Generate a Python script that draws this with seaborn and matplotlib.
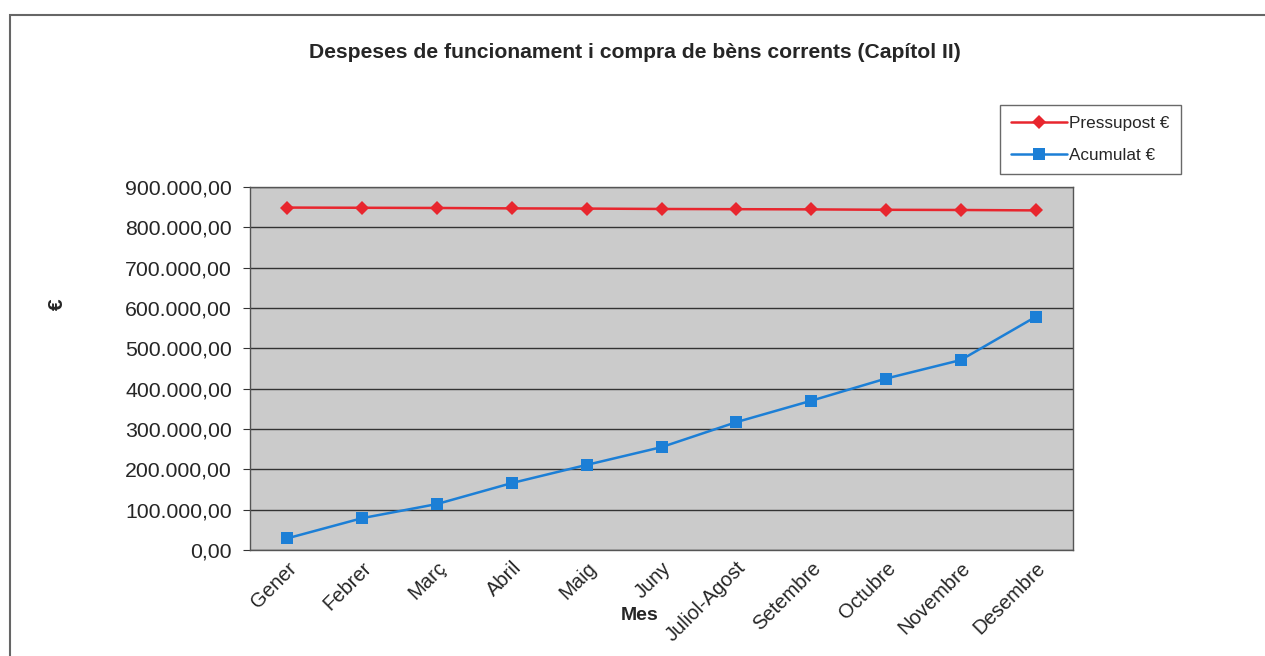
import matplotlib
matplotlib.use("Agg")
import matplotlib.pyplot as plt
import seaborn as sns
import pandas as pd
from matplotlib.ticker import FuncFormatter, FixedLocator
from matplotlib.patches import Rectangle

months = ["Gener", "Febrer", "Març", "Abril", "Maig", "Juny", "Juliol-Agost",
          "Setembre", "Octubre", "Novembre", "Desembre"]
pressupost = [849000, 848500, 848000, 847000, 846500, 845500, 845000,
              844500, 843500, 843000, 842000]
acumulat = [29000, 79000, 114000, 166000, 211000, 255000, 317000,
            370000, 425000, 471000, 578000]
series_names = ["Pressupost €", "Acumulat €"]
y_ticks = [0, 100000, 200000, 300000, 400000, 500000, 600000, 700000, 800000, 900000]

sns.set_style("white")
plt.rcParams['font.family'] = ['Liberation Sans', 'DejaVu Sans']

df = pd.DataFrame({
    "Mes": months * 2,
    "valor": pressupost + acumulat,
    "serie": [series_names[0]] * len(months) + [series_names[1]] * len(months),
})

fig = plt.figure(figsize=(12.65, 6.56), dpi=100)
ax = fig.add_axes([250/1265, 1-550/656, (1073-250)/1265, (550-187)/656])
ax.set_facecolor("#cbcbcb")

palette = {series_names[0]: "#e8262e", series_names[1]: "#1c7fd6"}
markers = {series_names[0]: "D", series_names[1]: "s"}
sns.lineplot(data=df, x="Mes", y="valor", hue="serie", style="serie",
             palette=palette, markers=markers, dashes=False, linewidth=1.8,
             markeredgewidth=0, ax=ax, sort=False)
for line in ax.get_lines():
    if line.get_marker() == "D":
        line.set_markersize(7.5)
    elif line.get_marker() == "s":
        line.set_markersize(8.5)

ax.set_xlim(-0.5, len(months) - 0.5)
ax.set_ylim(0, 900000)
ax.yaxis.set_major_locator(FixedLocator(y_ticks))

def fmt(v, pos):
    s = f"{v:,.2f}"
    return s.replace(",", "X").replace(".", ",").replace("X", ".")
ax.yaxis.set_major_formatter(FuncFormatter(fmt))
ax.grid(axis="y", color="#333333", linewidth=1.0)
ax.set_axisbelow(True)

ax.set_xticks(range(len(months)))
ax.set_xticklabels(months, rotation=45, ha="right", rotation_mode="anchor",
                   fontsize=14.5)
ax.tick_params(axis="x", which="major", length=0, pad=6)
ax.set_xticks([i - 0.5 for i in range(len(months) + 1)], minor=True)
ax.tick_params(axis="x", which="minor", length=7, color="#333333", direction="out")
ax.tick_params(axis="y", labelsize=15.3, length=5, color="#333333", direction="out",
               left=True, pad=8)

for sp in ax.spines.values():
    sp.set_color("#555555")
    sp.set_linewidth(1.0)

ax.set_xlabel("")
ax.set_ylabel("")
fig.text(640/1265, 1-615/656, "Mes", fontsize=14, fontweight="bold",
         ha="center", va="center")
fig.text(57/1265, 1-304/656, "€", fontsize=15, fontweight="bold",
         ha="center", va="center", rotation=90)
fig.text(635/1265, 1-52/656,
         "Despeses de funcionament i compra de bèns corrents (Capítol II)",
         fontsize=15.2, fontweight="bold", ha="center", va="center")

leg = ax.legend(loc="upper left", bbox_to_anchor=(1000/1265, 1-105/656),
                bbox_transform=fig.transFigure, fontsize=12.3, frameon=True,
                fancybox=False, edgecolor="#444444", borderpad=0.65,
                labelspacing=1.0, handlelength=3.3, handletextpad=0.1,
                borderaxespad=0)
leg.get_frame().set_linewidth(1.0)

fig.patches.append(Rectangle((10/1265, -0.2), 1.2, 0.2 + (1-15/656),
                             transform=fig.transFigure, fill=False,
                             edgecolor="#666666", linewidth=1.5))

fig.savefig("out.png", dpi=100, facecolor="white")
